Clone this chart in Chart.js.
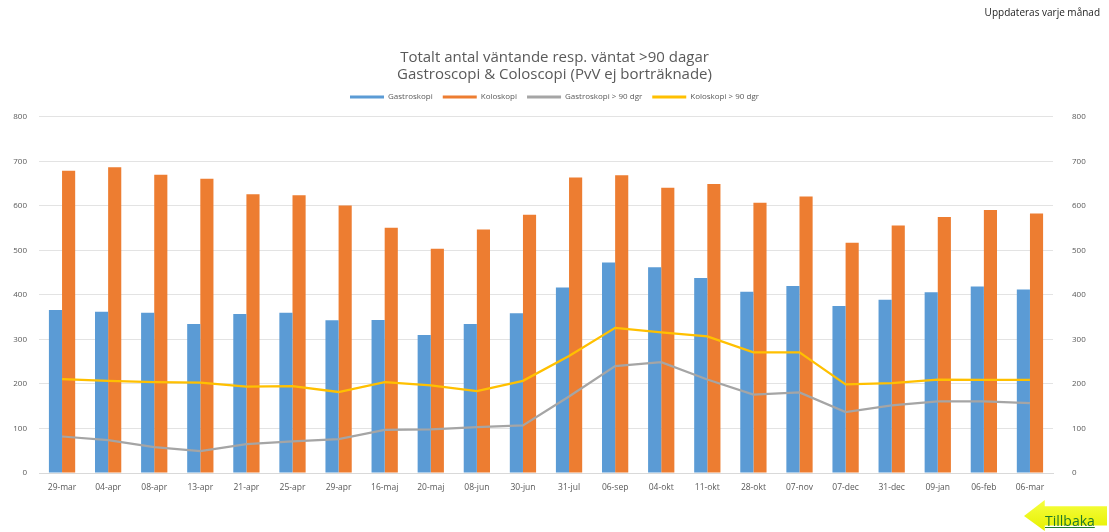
<!DOCTYPE html>
<html>
<head>
<meta charset="utf-8">
<script src="https://cdn.jsdelivr.net/npm/chart.js@4.4.1/dist/chart.umd.min.js"></script>
<style>
  html, body { margin: 0; padding: 0; background: #fff; }
  #wrap { position: relative; width: 1109px; height: 532px; overflow: hidden; }
  #updated {
    position: absolute; top: 5px; right: 9px;
    font: 10px "Open Sans", sans-serif; color: #222;
  }
  #back {
    position: absolute; left: 1024px; top: 500px; width: 83px; height: 31px;
    background: linear-gradient(#f6ff40, #e6ef00);
    clip-path: polygon(0 52%, 25% 0, 25% 20%, 100% 20%, 100% 82%, 25% 82%, 25% 100%);
  }
  #backText {
    position: absolute; left: 1045px; top: 511px;
    font: 14px "Open Sans", sans-serif; color: #1f7a2a; text-decoration: underline;
  }
</style>
</head>
<body>
<div id="wrap">
  <canvas id="chart" width="1109" height="532"></canvas>
  <div id="updated">Uppdateras varje månad</div>
  <div id="back"></div>
  <div id="backText">Tillbaka</div>
</div>
<script>
/* data */
const dates = ["29-mar", "04-apr", "08-apr", "13-apr", "21-apr", "25-apr", "29-apr", "16-maj", "20-maj", "08-jun", "30-jun",
  "31-jul", "06-sep", "04-okt", "11-okt", "28-okt", "07-nov", "07-dec", "31-dec", "09-jan", "06-feb", "06-mar"];
const gastro = [366, 362, 360, 335, 357, 360, 343, 344, 310, 335, 359, 417, 473, 462, 438, 407, 420, 375, 389, 406, 419, 412];
const kolo = [679, 687, 670, 661, 626, 624, 601, 551, 504, 547, 580, 664, 669, 641, 649, 607, 621, 517, 556, 575, 591, 583];
const gastro90 = [82, 74, 58, 49, 65, 71, 76, 97, 98, 103, 107, 172, 240, 249, 210, 176, 181, 137, 152, 161, 161, 157];
const kolo90 = [211, 207, 204, 203, 194, 195, 182, 204, 197, 184, 207, 263, 326, 316, 307, 271, 271, 199, 202, 210, 209, 209];
const titleLines = ["Totalt antal väntande resp. väntat >90 dagar", "Gastroscopi & Coloscopi (PvV ej borträknade)"];

const FONT = "'Open Sans', sans-serif";
const GREY = "#595959";

// a bit more room between legend and plot
const legendGap = {
  id: "legendGap",
  beforeInit(chart) {
    const fit = chart.legend.fit;
    chart.legend.fit = function () {
      fit.bind(chart.legend)();
      this.height += 6;
    };
  }
};

new Chart(document.getElementById("chart"), {
  type: "bar",
  data: {
    labels: dates,
    datasets: [
      { label: "Gastroskopi", data: gastro, backgroundColor: "#5B9BD5", yAxisID: "y", order: 2 },
      { label: "Koloskopi", data: kolo, backgroundColor: "#ED7D31", yAxisID: "y", order: 2 },
      { label: "Gastroskopi > 90 dgr", type: "line", data: gastro90, borderColor: "#A5A5A5", backgroundColor: "#A5A5A5",
        borderWidth: 2.25, pointRadius: 0, tension: 0, yAxisID: "y2", order: 1 },
      { label: "Koloskopi > 90 dgr", type: "line", data: kolo90, borderColor: "#FFC000", backgroundColor: "#FFC000",
        borderWidth: 2.25, pointRadius: 0, tension: 0, yAxisID: "y2", order: 1 }
    ]
  },
  plugins: [legendGap],
  options: {
    responsive: false,
    animation: false,
    layout: { padding: { left: 0, right: 0, top: 0, bottom: 30 } },
    datasets: { bar: { categoryPercentage: 0.57, barPercentage: 1 } },
    plugins: {
      title: {
        display: true, text: titleLines, color: GREY,
        font: { family: FONT, size: 15, weight: "normal", lineHeight: 1.13 },
        padding: { top: 49, bottom: 0 }
      },
      legend: {
        position: "top",
        labels: {
          color: GREY, font: { family: FONT, size: 8 }, boxWidth: 34, boxHeight: 3, padding: 10,
          generateLabels: chart => chart.data.datasets.map((ds, i) => ({
            text: ds.label, fillStyle: ds.backgroundColor, strokeStyle: ds.backgroundColor,
            lineWidth: 0, datasetIndex: i, fontColor: GREY,
            hidden: false
          }))
        }
      },
      tooltip: { enabled: false }
    },
    scales: {
      x: {
        grid: { display: false },
        border: { display: true, color: "#d9d9d9" },
        ticks: { color: GREY, font: { family: FONT, size: 8.5 }, maxRotation: 0, autoSkip: false, padding: 1 },
        afterFit: s => { s.height = 29; }
      },
      y: {
        position: "left", min: 0, max: 800,
        grid: { color: "#e3e3e3", drawTicks: false },
        border: { display: false },
        ticks: { stepSize: 100, color: GREY, font: { family: FONT, size: 8 }, padding: 12 },
        afterFit: s => { s.width = 39; }
      },
      y2: {
        position: "right", min: 0, max: 800,
        grid: { display: false },
        border: { display: false },
        ticks: { stepSize: 100, color: GREY, font: { family: FONT, size: 8 }, padding: 11 },
        afterFit: s => { s.width = 56; }
      }
    }
  }
});
</script>
</body>
</html>
